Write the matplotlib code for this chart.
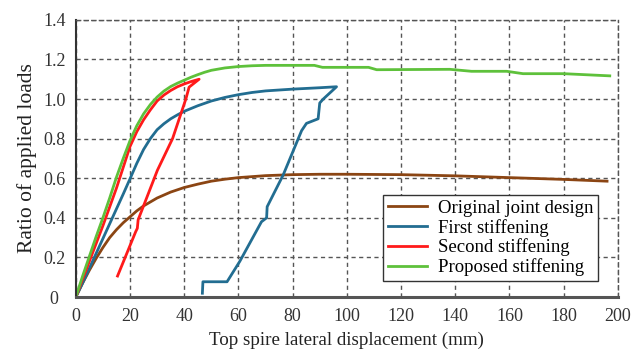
import matplotlib
matplotlib.use('Agg')
import matplotlib.pyplot as plt
from matplotlib.ticker import FuncFormatter

# Original joint design
orig_x = [0, 2.5, 5, 7.5, 10, 12.5, 15, 17.5, 20, 22.5, 25, 27.5, 30, 35, 40, 45, 50, 55, 60,
          70, 80, 90, 100, 120, 140, 160, 180, 196]
orig_y = [0, 0.07, 0.135, 0.195, 0.25, 0.30, 0.34, 0.375, 0.405, 0.435, 0.46, 0.48, 0.50, 0.53,
          0.553, 0.57, 0.585, 0.595, 0.603, 0.613, 0.618, 0.62, 0.62, 0.618, 0.612, 0.603, 0.594, 0.585]

# First stiffening (loading, then reloading branch)
first_x = [0, 2.5, 5, 7.5, 10, 12.5, 15, 17.5, 20, 22.5, 25, 27.5, 30, 32.5, 35, 37.5, 40, 42.5,
           45, 50, 55, 60, 65, 70, 80, 90, 96.2,
           91.3, 90.0, 89.4, 85.1, 83.3, 76.5, 70.6, 70.4, 68.5, 60.5, 55.8, 46.9, 46.7]
first_y = [0, 0.07, 0.145, 0.22, 0.295, 0.37, 0.445, 0.52, 0.597, 0.675, 0.745, 0.80, 0.845, 0.875,
           0.90, 0.92, 0.938, 0.952, 0.966, 0.99, 1.008, 1.022, 1.033, 1.041, 1.05, 1.057, 1.062,
           1.0, 0.98, 0.9, 0.877, 0.84, 0.616, 0.456, 0.40, 0.38, 0.18, 0.077, 0.077, 0.019]

# Second stiffening (loading, then reloading branch)
second_x = [0, 2.5, 5, 7.5, 10, 12.5, 15, 17.5, 20, 22.5, 25, 27.5, 30, 32.5, 35, 37.5, 40, 42.5, 45.5,
            41.8, 40.6, 35.7, 30.1, 23.0, 22.7, 22.1, 15.4]
second_y = [0, 0.09, 0.18, 0.27, 0.36, 0.455, 0.55, 0.655, 0.76, 0.835, 0.895, 0.945, 0.99, 1.02,
            1.043, 1.062, 1.076, 1.088, 1.1,
            1.06, 1.0, 0.8, 0.64, 0.39, 0.347, 0.33, 0.106]

# Proposed stiffening
prop_x = [0, 2.5, 5, 7.5, 10, 12.5, 15, 17.5, 20, 22.5, 25, 27.5, 30, 32.5, 35, 37.5, 40, 42.5,
          45, 47.5, 50, 55, 60, 65, 70, 88, 91, 108, 111, 138, 146, 159, 165, 180, 197]
prop_y = [0, 0.105, 0.205, 0.305, 0.40, 0.50, 0.605, 0.70, 0.79, 0.865, 0.925, 0.972, 1.01, 1.04,
          1.063, 1.08, 1.095, 1.11, 1.123, 1.135, 1.145, 1.157, 1.164, 1.168, 1.17, 1.17, 1.16,
          1.16, 1.148, 1.15, 1.14, 1.14, 1.128, 1.128, 1.117]

plt.rcParams['font.family'] = ['Liberation Serif', 'DejaVu Serif']

fig = plt.figure(figsize=(6.37, 3.54), dpi=100)
ax = fig.add_axes([0.119, 0.161, 0.851, 0.783])

lw = 2.0
ax.plot(orig_x, orig_y, color='#8b4513', lw=lw, label='Original joint design')
ax.plot(first_x, first_y, color='#226d91', lw=lw, label='First stiffening')
ax.plot(second_x, second_y, color='#ff1a1a', lw=lw, label='Second stiffening')
ax.plot(prop_x, prop_y, color='#5ec13b', lw=lw, label='Proposed stiffening')

ax.set_xlim(0, 200)
ax.set_ylim(0, 1.4)
ax.set_xticks(range(0, 201, 20))
ax.set_yticks([0, 0.2, 0.4, 0.6, 0.8, 1.0, 1.2, 1.4])
ax.yaxis.set_major_formatter(FuncFormatter(lambda v, p: '0' if v == 0 else f'{v:.1f}'))
ax.tick_params(length=0, labelsize=13, colors='#333333')
ax.tick_params(axis='x', pad=8)
ax.tick_params(axis='y', pad=15.5)
for t in ax.get_yticklabels():
    t.set_horizontalalignment('center')

ax.grid(True, color='#555555', linestyle=(0, (3, 2.5)), linewidth=1.0)
for side in ['top', 'right']:
    ax.spines[side].set_linestyle((0, (3, 2.5)))
    ax.spines[side].set_color('#555555')
    ax.spines[side].set_linewidth(1.0)
ax.spines['left'].set_color('#333333')
ax.spines['left'].set_linewidth(1.5)
ax.spines['bottom'].set_color('#555555')
ax.spines['bottom'].set_linewidth(2.2)

ax.set_xlabel('Top spire lateral displacement (mm)', fontsize=13.7, color='#222222', labelpad=5)
ax.set_ylabel('Ratio of applied loads', fontsize=15.5, color='#222222', labelpad=4)

leg = ax.legend(loc='lower right', bbox_to_anchor=(0.963, 0.058), fontsize=13.5, frameon=True,
                fancybox=False, edgecolor='#333333', framealpha=1, borderpad=0.25,
                handlelength=2.1, handletextpad=0.55, labelspacing=0.1, borderaxespad=0)
leg.get_frame().set_linewidth(1.0)

fig.savefig('out.png', dpi=100)
